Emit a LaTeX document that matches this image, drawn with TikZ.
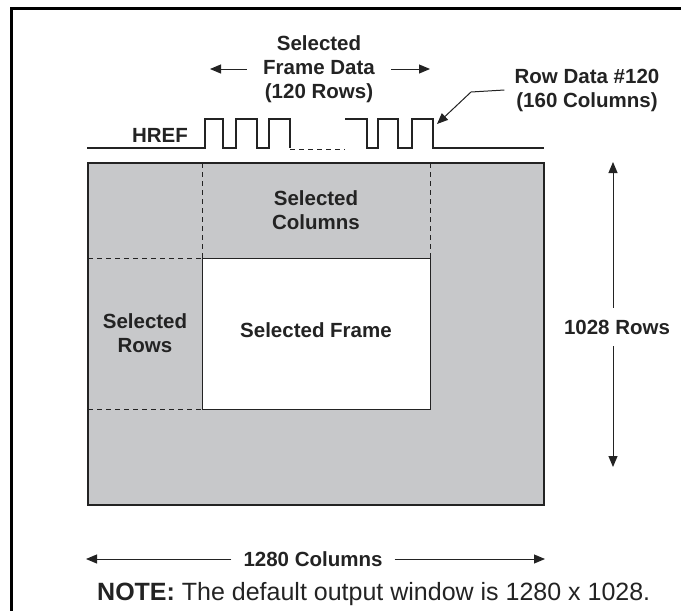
\documentclass[tikz,border=0pt]{standalone}
\usepackage{fontspec}
\setmainfont{Liberation Sans}
\usetikzlibrary{arrows.meta,positioning}

\definecolor{areagray}{RGB}{199,200,202}
\definecolor{inkgray}{RGB}{35,35,35}

\tikzset{
  lbl/.style={font=\bfseries\fontsize{20.5}{24}\selectfont, align=center, inner sep=0pt, text=inkgray},
  dimarrow/.style={-{Triangle[length=11pt,width=9pt]}, line width=1pt, draw=inkgray},
  wave/.style={line width=1.3pt, draw=inkgray},
  cut/.style={dashed, dash pattern=on 5pt off 4pt, line width=1pt, draw=inkgray}
}

\begin{document}
\begin{tikzpicture}[x=1pt,y=-1pt]

\useasboundingbox (0,0) rectangle (681,611);

% Outer frame
\draw[line width=3pt] (11,611) -- (11,8) -- (681,8);

% Full window (1280 x 1028)
\draw[fill=areagray, draw=inkgray, line width=1.6pt] (88,163) rectangle (544,505);

% Selected frame
\draw[fill=white, draw=inkgray, line width=1pt] (202,258) rectangle (430,409);

% Selected columns / rows boundaries
\draw[cut] (202,163) -- (202,258);
\draw[cut] (430,163) -- (430,258);
\draw[cut] (88,258) -- (202,258);
\draw[cut] (88,409) -- (202,409);

% Region labels
\node[lbl] (cols) at (316,210) {Selected\\Columns};
\node[lbl] (rows) at (145,333) {Selected\\Rows};
\node[lbl] (frame) at (316,330) {Selected Frame};

% HREF waveform
\node[lbl] (href) at (160,135) {HREF};
\draw[wave] (87,148) -- (205,148) |- (223,119) |- (236,148) |- (257,119)
  |- (269,148) |- (290,119) -- (290,148);
\draw[cut] (290,149) -- (345,149);
\draw[wave] (345,119) -- (367,119) |- (378,148) |- (398,119) |- (412,148)
  |- (433,119) -- (433,148) -- (544,148);

% Selected frame data
\node[lbl, inner xsep=16pt] (sel) at (319,69) {Selected\\Frame Data\\(120 Rows)};
\coordinate (fdl) at (210,69);
\coordinate (fdr) at (430,69);
\draw[dimarrow] (sel.west) -- (fdl);
\draw[dimarrow] (sel.east) -- (fdr);

% Row data leader
\node[lbl, inner xsep=10pt] (rowdata) at (587,90) {Row Data \#120\\(160 Columns)};
\coordinate (bend) at (471,92);
\coordinate (lastrow) at (437,124);
\draw[dimarrow] (rowdata.west) -- (bend) -- (lastrow);

% Height dimension
\node[lbl, inner ysep=12pt] (height) at (617,327) {1028 Rows};
\coordinate (htop) at (613,162);
\coordinate (hbot) at (613,467);
\draw[dimarrow] (height.north -| htop) -- (htop);
\draw[dimarrow] (height.south -| hbot) -- (hbot);

% Width dimension
\node[lbl, inner xsep=12pt] (width) at (313,559) {1280 Columns};
\coordinate (wleft) at (86,559);
\coordinate (wright) at (545,559);
\draw[dimarrow] (width.west) -- (wleft);
\draw[dimarrow] (width.east) -- (wright);

% Note
\node[anchor=west, inner sep=0pt, text=inkgray, font=\fontsize{25}{28}\selectfont] (note) at (97,594)
  {\textbf{NOTE:} The default output window is 1280 x 1028.};

\end{tikzpicture}
\end{document}
